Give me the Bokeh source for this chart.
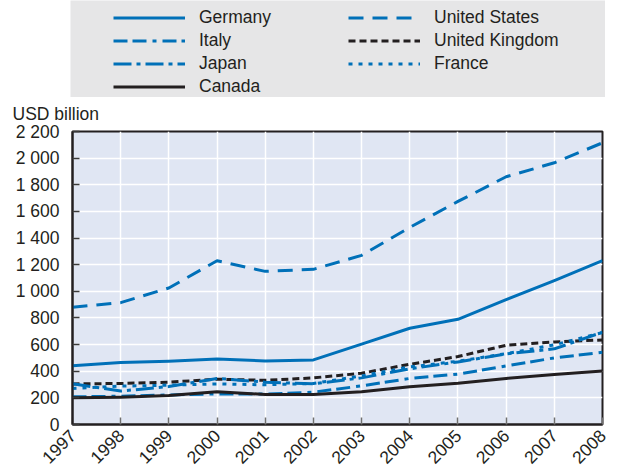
import math
from bokeh.plotting import figure
from bokeh.models import Range1d, Legend, LegendItem, Spacer
from bokeh.layouts import column, row
from bokeh.embed import file_html
from bokeh.resources import INLINE

# ---------------- data (USD billion) ----------------
years = [1997, 1998, 1999, 2000, 2001, 2002, 2003, 2004, 2005, 2006, 2007, 2008]
germany = [442, 465, 475, 492, 477, 485, 603, 723, 790, 937, 1080, 1230]
united_states = [880, 915, 1025, 1230, 1150, 1165, 1270, 1480, 1675, 1860, 1965, 2115]
italy = [208, 212, 222, 230, 228, 243, 290, 346, 378, 440, 500, 542]
united_kingdom = [305, 308, 318, 340, 332, 350, 385, 452, 510, 595, 620, 635]
japan = [306, 251, 285, 346, 318, 305, 350, 418, 470, 530, 568, 693]
france = [271, 288, 295, 305, 298, 308, 365, 432, 475, 532, 598, 690]
canada = [200, 205, 218, 246, 226, 226, 246, 283, 310, 346, 375, 402]

y_ticks = [0, 200, 400, 600, 800, 1000, 1200, 1400, 1600, 1800, 2000, 2200]
y_tick_labels = ["0", "200", "400", "600", "800", "1 000", "1 200", "1 400",
                 "1 600", "1 800", "2 000", "2 200"]
y_axis_title = "USD billion"

# ---------------- styles ----------------
BLUE = "#0070b8"
DARK = "#231f20"
BG = "#e0e6f3"
GRAY = "#e6e6e7"
FONT = "Liberation Sans"
FSIZE = "17.5px"
LW = 3

styles = {
    "Germany": (BLUE, "solid"),
    "United States": (BLUE, "15 9"),
    "Italy": (BLUE, "14 5 14 6 4 6"),
    "United Kingdom": (DARK, "7 4"),
    "Japan": (BLUE, "18 5 4 5"),
    "France": (BLUE, "4 6"),
    "Canada": (DARK, "solid"),
}
series = {
    "Germany": germany,
    "United States": united_states,
    "Italy": italy,
    "United Kingdom": united_kingdom,
    "Japan": japan,
    "France": france,
    "Canada": canada,
}

# ---------------- main chart ----------------
p = figure(frame_width=530, frame_height=293,
           x_range=Range1d(1997, 2008), y_range=Range1d(0, 2200),
           output_backend="svg", toolbar_location=None,
           min_border_left=72, min_border_right=12,
           min_border_top=33, min_border_bottom=46,
           background_fill_color=BG, border_fill_color="white")

for name, vals in series.items():
    color, dash = styles[name]
    p.line(years, vals, line_color=color, line_width=LW, line_dash=dash,
           line_join="round")

p.outline_line_color = DARK
p.outline_line_width = 2
p.outline_line_alpha = 1

p.xgrid.grid_line_color = "white"
p.ygrid.grid_line_color = "white"
p.xgrid.grid_line_width = 1.5
p.ygrid.grid_line_width = 1.5

p.xaxis.ticker = years
p.yaxis.ticker = y_ticks
p.yaxis.major_label_overrides = {t: l for t, l in zip(y_ticks, y_tick_labels)}

for ax in (p.xaxis, p.yaxis):
    ax.axis_line_color = DARK
    ax.axis_line_width = 2
    ax.major_tick_in = 7
    ax.major_tick_out = 0
    ax.major_tick_line_width = 1.5
    ax.minor_tick_line_color = None
    ax.major_label_text_font = FONT
    ax.major_label_text_font_size = FSIZE
    ax.major_label_text_color = DARK

p.yaxis.major_tick_line_color = "#3a3a3a"
p.xaxis.major_tick_line_color = "#707070"
p.yaxis.major_label_standoff = 13
p.xaxis.major_label_standoff = 8
p.xaxis.major_label_orientation = math.pi / 4

p.title.text = y_axis_title
p.title.align = "left"
p.title.vertical_align = "top"
p.title.offset = -60
p.title.standoff = 12
p.title.text_font = FONT
p.title.text_font_size = FSIZE
p.title.text_font_style = "normal"
p.title.text_color = DARK

# ---------------- legend block ----------------
LEG_H = 97
ITEM_H = 21
ITEM_GAP = 2
LEG_TOP = 6.5

leg_fig = figure(width=535, height=LEG_H, x_range=Range1d(0, 1), y_range=Range1d(0, 1),
                 x_axis_type=None, y_axis_type=None,
                 output_backend="svg", toolbar_location=None,
                 min_border=0,
                 background_fill_color=GRAY, border_fill_color=GRAY,
                 outline_line_color=None)
leg_fig.grid.visible = False


def add_legend(names, x0):
    # the series lie outside this figure's ranges, so only the legend samples show
    items = []
    for name in names:
        color, dash = styles[name]
        r = leg_fig.line(years, series[name], line_color=color, line_width=LW,
                         line_dash=dash)
        items.append(LegendItem(label=name, renderers=[r]))
    n = len(names)
    block_h = n * ITEM_H + (n - 1) * ITEM_GAP
    leg = Legend(items=items, location=(x0, LEG_H - LEG_TOP - block_h),
                 margin=0, padding=0,
                 spacing=ITEM_GAP, glyph_width=72, glyph_height=ITEM_H,
                 label_height=ITEM_H, label_standoff=14, label_text_font=FONT,
                 label_text_font_size=FSIZE, label_text_color=DARK,
                 background_fill_alpha=0, border_line_color=None)
    leg_fig.add_layout(leg)


add_legend(["Germany", "Italy", "Japan", "Canada"], 43)
add_legend(["United States", "United Kingdom", "France"], 278)

layout = column(row(Spacer(width=70, height=LEG_H), leg_fig), p)

open("out.html", "w").write(file_html(layout, INLINE))
